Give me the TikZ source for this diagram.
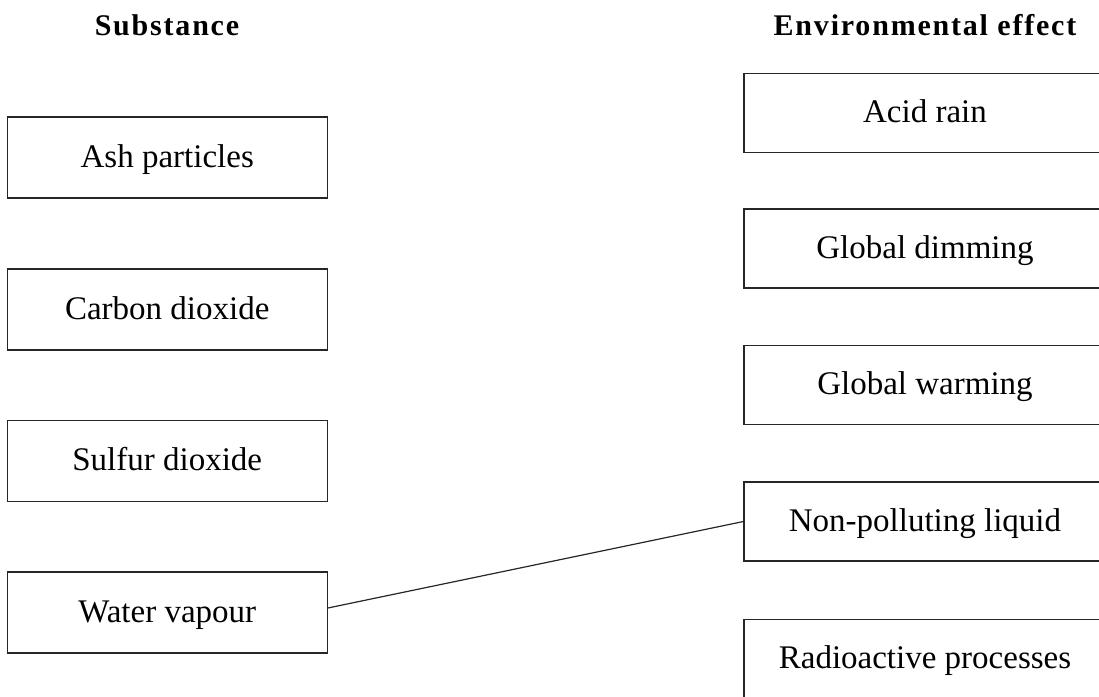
\documentclass[tikz,border=0pt]{standalone}
\usepackage{fontspec}
\setmainfont{Liberation Serif}
\begin{document}
\begin{tikzpicture}[x=1pt,y=-1pt,
  box/.style={draw=black!85, line width=1.2pt, rectangle, inner sep=0pt,
    text height=19pt, text depth=0pt,
    font=\fontsize{33}{40}\selectfont},
  leftbox/.style={box, minimum width=320pt, minimum height=81pt},
  rightbox/.style={box, minimum width=362pt, minimum height=79pt},
  heading/.style={anchor=base, inner sep=0pt,
    font=\fontsize{30}{36}\selectfont\bfseries\addfontfeatures{LetterSpace=6}},
  link/.style={draw=black!85, line width=1.2pt}]
\useasboundingbox (0,0) rectangle (1099,696);
\clip (0,0) rectangle (1099,696);
\node[heading] (hs) at (167,35) {Substance};
\node[heading] (he) at (925,35) {Environmental effect};
\node[leftbox] (ash) at (167.25,157.5) {Ash particles};
\node[leftbox] (co2) at (167.25,309.5) {Carbon dioxide};
\node[leftbox] (so2) at (167.25,461) {Sulfur dioxide};
\node[leftbox] (h2o) at (167.25,612.5) {Water vapour};
\node[rightbox] (acid) at (925,113) {Acid rain};
\node[rightbox] (dim) at (925,248.5) {Global dimming};
\node[rightbox] (warm) at (925,385) {Global warming};
\node[rightbox] (liq) at (925,521.5) {Non-polluting liquid};
\node[rightbox] (rad) at (925,659) {Radioactive processes};
\draw[link] ([yshift=4.5pt]h2o.east) -- (liq.west);
\end{tikzpicture}
\end{document}
